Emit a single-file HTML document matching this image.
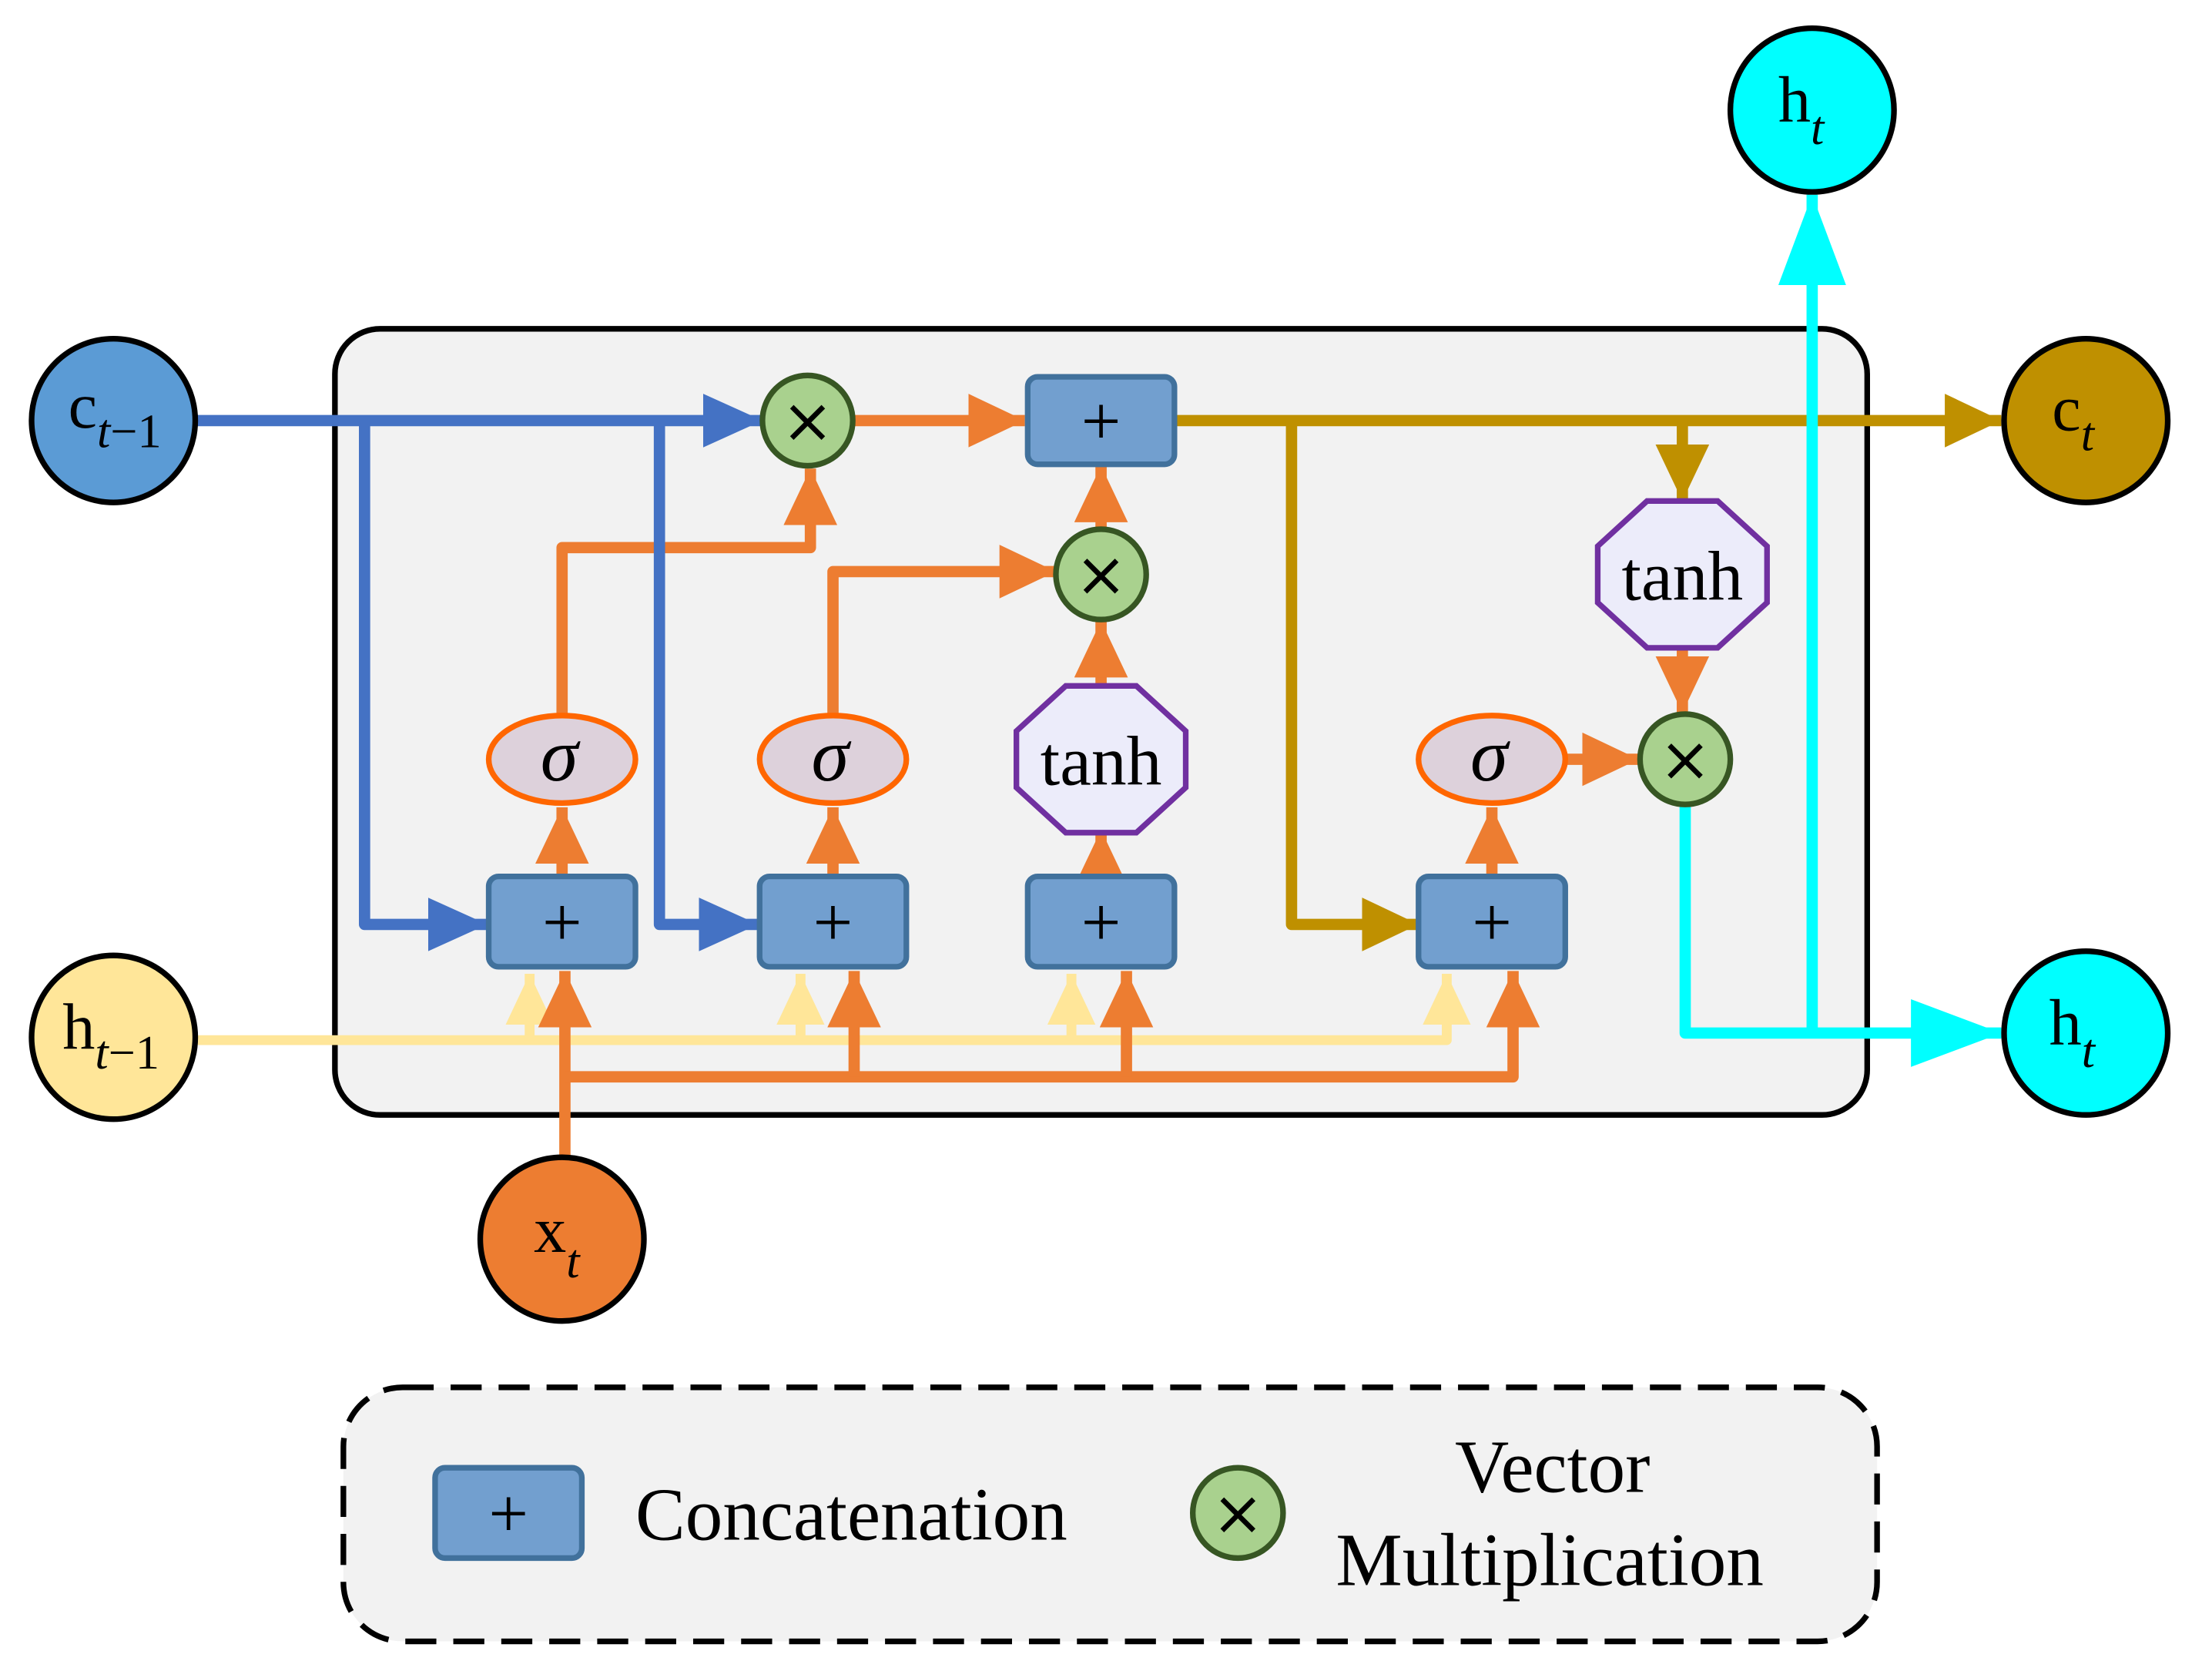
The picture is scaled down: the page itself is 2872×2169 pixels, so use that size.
<!DOCTYPE html>
<html><head><meta charset="utf-8"><style>
html,body{margin:0;padding:0;background:#fff}
svg{display:block}
text{font-family:"Liberation Serif",serif;fill:#000}
</style></head><body>
<svg width="2872" height="2169" viewBox="0 0 1567 1184" xmlns="http://www.w3.org/2000/svg">
<defs>
<marker id="ab" markerUnits="userSpaceOnUse" markerWidth="44" markerHeight="40" refX="42" refY="19" orient="auto"><path d="M0,0 L42,19 L0,38 z" fill="#4472c4"/></marker>
<marker id="ao" markerUnits="userSpaceOnUse" markerWidth="44" markerHeight="40" refX="40" refY="19" orient="auto"><path d="M0,0 L40,19 L0,38 z" fill="#ed7d31"/></marker>
<marker id="ay" markerUnits="userSpaceOnUse" markerWidth="44" markerHeight="40" refX="36" refY="17" orient="auto"><path d="M0,0 L36,17 L0,34 z" fill="#ffe699"/></marker>
<marker id="ag" markerUnits="userSpaceOnUse" markerWidth="44" markerHeight="40" refX="40" refY="19" orient="auto"><path d="M0,0 L40,19 L0,38 z" fill="#bf9000"/></marker>
<marker id="ac" markerUnits="userSpaceOnUse" markerWidth="70" markerHeight="50" refX="64" refY="24" orient="auto"><path d="M0,0 L64,24 L0,48 z" fill="#00ffff"/></marker>
</defs>
<rect x="237" y="233" width="1086" height="557" rx="32" fill="#f2f2f2" stroke="#000" stroke-width="4"/>
<rect x="243" y="983" width="1087" height="180" rx="42" fill="#f2f2f2" stroke="#000" stroke-width="4" stroke-dasharray="22 12"/>

<g fill="none" stroke-linejoin="round" stroke-linecap="butt">
<g stroke="#ffe699" stroke-width="7">
<path d="M138,737 H1025 V690" marker-end="url(#ay)"/>
<path d="M375,737 V690" marker-end="url(#ay)"/>
<path d="M567,737 V690" marker-end="url(#ay)"/>
<path d="M759,737 V690" marker-end="url(#ay)"/>
</g>
<g stroke="#ed7d31" stroke-width="8">
<path d="M400,822 V688" marker-end="url(#ao)"/>
<path d="M400,763 H1072 V688" marker-end="url(#ao)"/>
<path d="M605,763 V688" marker-end="url(#ao)"/>
<path d="M798,763 V688" marker-end="url(#ao)"/>
<path d="M398,620 V572" marker-end="url(#ao)"/>
<path d="M590,620 V572" marker-end="url(#ao)"/>
<path d="M780,620 V588" marker-end="url(#ao)"/>
<path d="M1057,620 V572" marker-end="url(#ao)"/>
<path d="M398,507 V388 H574 V332" marker-end="url(#ao)"/>
<path d="M590,507 V405 H748" marker-end="url(#ao)"/>
<path d="M780,490 V440" marker-end="url(#ao)"/>
<path d="M780,378 V330" marker-end="url(#ao)"/>
<path d="M604,298 H726" marker-end="url(#ao)"/>
<path d="M1192,460 V505" marker-end="url(#ao)"/>
<path d="M1109,538 H1161" marker-end="url(#ao)"/>
</g>
<g stroke="#4472c4" stroke-width="8">
<path d="M138,298 H540" marker-end="url(#ab)"/>
<path d="M258,298 V655 H345" marker-end="url(#ab)"/>
<path d="M467,298 V655 H537" marker-end="url(#ab)"/>
</g>
<g stroke="#bf9000" stroke-width="8">
<path d="M832,298 H1418" marker-end="url(#ag)"/>
<path d="M915,298 V655 H1005" marker-end="url(#ag)"/>
<path d="M1192,298 V355" marker-end="url(#ag)"/>
</g>
<g stroke="#00ffff" stroke-width="8">
<path d="M1194,570 V732 H1418" marker-end="url(#ac)"/>
<path d="M1284,732 V138" marker-end="url(#ac)"/>
</g>
</g>

<g fill="#729fcf" stroke="#41719c" stroke-width="4">
<rect x="346" y="621" width="104" height="64" rx="7"/>
<rect x="538" y="621" width="104" height="64" rx="7"/>
<rect x="728" y="621" width="104" height="64" rx="7"/>
<rect x="1005" y="621" width="104" height="64" rx="7"/>
<rect x="728" y="267" width="104" height="62" rx="7"/>
<rect x="308" y="1040" width="104" height="64" rx="7"/>
</g>
<g font-size="50" text-anchor="middle">
<text x="398" y="670">+</text><text x="590" y="670">+</text><text x="780" y="670">+</text><text x="1057" y="670">+</text><text x="780" y="315">+</text><text x="360" y="1089">+</text>
</g>
<g fill="#a9d18e" stroke="#375623" stroke-width="4">
<circle cx="572" cy="298" r="32"/><circle cx="780" cy="407" r="32"/><circle cx="1194" cy="538" r="32"/><circle cx="877" cy="1072" r="32"/>
</g>
<g font-size="44" text-anchor="middle">
<text x="572" y="313" style="font-family:'DejaVu Sans',sans-serif">×</text>
<text x="780" y="422" style="font-family:'DejaVu Sans',sans-serif">×</text>
<text x="1194" y="553" style="font-family:'DejaVu Sans',sans-serif">×</text>
<text x="877" y="1087" style="font-family:'DejaVu Sans',sans-serif">×</text>
</g>
<g fill="#ddd1db" stroke="#ff6600" stroke-width="4">
<ellipse cx="398" cy="538" rx="52" ry="31"/><ellipse cx="590" cy="538" rx="52" ry="31"/><ellipse cx="1057" cy="538" rx="52" ry="31"/>
</g>
<g font-size="54" font-style="italic" text-anchor="middle">
<text x="396" y="553">σ</text><text x="588" y="553">σ</text><text x="1055" y="553">σ</text>
</g>
<g fill="#ececfa" stroke="#7030a0" stroke-width="4">
<polygon points="755,486 805,486 840,518 840,558 805,590 755,590 720,558 720,518"/>
<polygon points="1167,355 1217,355 1252,387 1252,427 1217,459 1167,459 1132,427 1132,387"/>
</g>
<g font-size="50" text-anchor="middle"><text x="780" y="556">tanh</text><text x="1192" y="425">tanh</text></g>

<g stroke="#000" stroke-width="4">
<circle cx="80" cy="298" r="58" fill="#5b9bd5"/>
<circle cx="80" cy="735" r="58" fill="#ffe699"/>
<circle cx="398" cy="878" r="58" fill="#ed7d31"/>
<circle cx="1478" cy="298" r="58" fill="#bf9000"/>
<circle cx="1478" cy="732" r="58" fill="#00ffff"/>
<circle cx="1284" cy="78" r="58" fill="#00ffff"/>
</g>
<g font-size="46">
<text x="48" y="303">c<tspan font-size="34" font-style="italic" dy="14">t</tspan><tspan font-size="34">−1</tspan></text>
<text x="44" y="743">h<tspan font-size="34" font-style="italic" dy="14">t</tspan><tspan font-size="34">−1</tspan></text>
<text x="378" y="887">x<tspan font-size="34" font-style="italic" dy="18">t</tspan></text>
<text x="1454" y="305">c<tspan font-size="34" font-style="italic" dy="14">t</tspan></text>
<text x="1452" y="740">h<tspan font-size="34" font-style="italic" dy="16">t</tspan></text>
<text x="1260" y="86">h<tspan font-size="34" font-style="italic" dy="16">t</tspan></text>
</g>
<g font-size="53">
<text x="450" y="1091">Concatenation</text>
<text x="1100" y="1057" text-anchor="middle">Vector</text>
<text x="1098" y="1123" text-anchor="middle">Multiplication</text>
</g>
</svg>
</body></html>
